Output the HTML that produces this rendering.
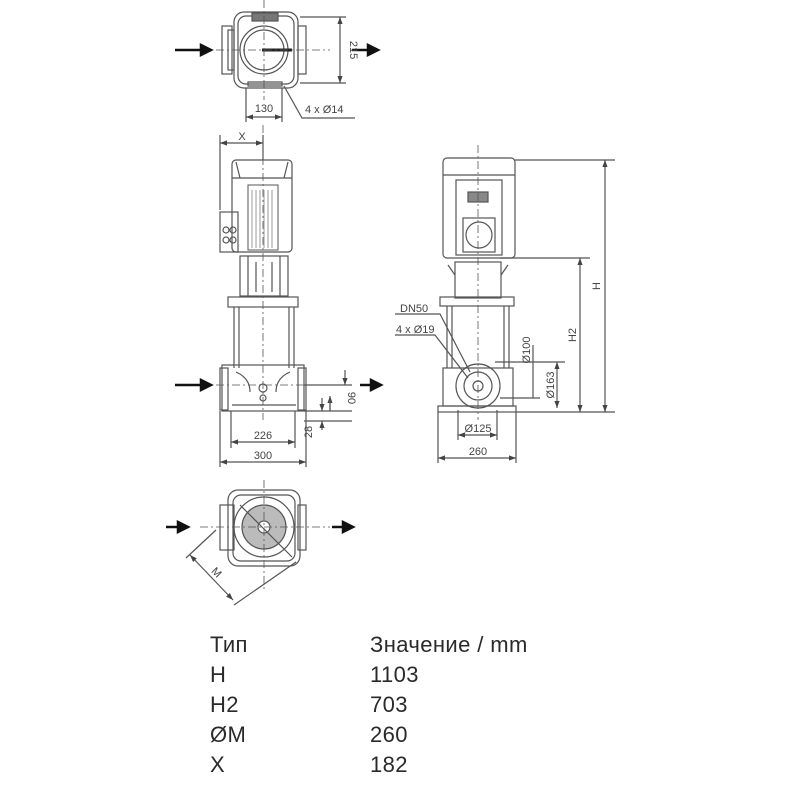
<!DOCTYPE html>
<html><head><meta charset="utf-8"><style>
html,body{margin:0;padding:0;background:#fff;}
svg{display:block;}
.t{font-family:"Liberation Sans","DejaVu Sans",sans-serif;fill:#444;}
.tb{font-family:"Liberation Sans","DejaVu Sans",sans-serif;fill:#2a2a2a;font-size:22px;letter-spacing:0.4px;}
</style></head><body>
<svg width="800" height="800" viewBox="0 0 800 800" xmlns="http://www.w3.org/2000/svg">
<defs>
<marker id="ar" markerWidth="6" markerHeight="6" refX="6" refY="3" orient="auto-start-reverse"><path d="M0,0.8 L6,3 L0,5.2Z" fill="#444"/></marker>
</defs>
<g stroke="#555" fill="none" stroke-width="1.2">
<!-- TOP VIEW -->
<rect x="234" y="12" width="64" height="76" rx="10"/>
<rect x="238" y="16" width="56" height="68" rx="8"/>
<circle cx="264" cy="50" r="24"/>
<circle cx="264" cy="50" r="20"/>
<rect x="222" y="26" width="10" height="48"/><rect x="228" y="30" width="6" height="40"/>
<rect x="298" y="26" width="8" height="48"/>
<rect x="252" y="13" width="26" height="8" fill="#777"/>
<path d="M262,50 H292" stroke="#222" stroke-width="3"/>
<path d="M248,86 h34 v-4 h-34z"/>
<path d="M264,0 V100 M200,50 H330" stroke-dasharray="8,3,2,3" stroke-width="0.8"/>
<path d="M300,17 H346 M300,83 H346"/>
<path d="M340,17 V83" marker-start="url(#ar)" marker-end="url(#ar)"/>
<path d="M246,88 V122 M282,88 V122"/>
<path d="M246,117 H282" marker-start="url(#ar)" marker-end="url(#ar)"/>
<path d="M284,86 L302,118 H355"/>
<!-- FRONT VIEW -->
<rect x="232" y="160" width="60" height="92" rx="4"/>
<path d="M232,178 H292 M236,162 L240,178 M288,162 L284,178"/>
<rect x="248" y="185" width="30" height="65" stroke-width="1"/>
<path d="M252,190 V248 M256,190 V248 M260,190 V248 M264,190 V248 M268,190 V248 M272,190 V248" stroke-width="0.6"/>
<rect x="220" y="212" width="18" height="40"/>
<circle cx="226" cy="230" r="3"/><circle cx="233" cy="230" r="3"/><circle cx="226" cy="240" r="3"/><circle cx="233" cy="240" r="3"/>
<rect x="240" y="256" width="48" height="40"/>
<path d="M248,256 V296 M280,256 V296 M256,262 V292 M272,262 V292"/>
<rect x="228" y="297" width="70" height="10"/>
<path d="M234,307 V368 M239,307 V368 M289,307 V368 M294,307 V368"/>
<rect x="222" y="365" width="82" height="46"/>
<rect x="220" y="368" width="8" height="42"/><rect x="298" y="368" width="8" height="42"/>
<path d="M236,372 Q250,378 250,392 M290,372 Q276,378 276,392 M232,405 H296"/>
<circle cx="263" cy="388" r="4"/><circle cx="263" cy="398" r="3"/>
<path d="M263,125 V420 M200,385 H330" stroke-dasharray="8,3,2,3" stroke-width="0.8"/>
<path d="M220,135 V210 M263,135 V160"/>
<path d="M220,143 H263" marker-start="url(#ar)" marker-end="url(#ar)"/>
<path d="M304,385 H352 M304,411 H352 M304,421 H352"/>
<path d="M345,370 V385" marker-end="url(#ar)"/><path d="M330,411 V396" marker-end="url(#ar)"/>
<path d="M330,400 V411"/>
<path d="M322,430 V421" marker-end="url(#ar)"/><path d="M322,398 V411" marker-end="url(#ar)"/>
<path d="M231,411 V448 M295,411 V448 M220,411 V467 M306,411 V467"/>
<path d="M231,442 H295" marker-start="url(#ar)" marker-end="url(#ar)"/>
<path d="M220,462 H306" marker-start="url(#ar)" marker-end="url(#ar)"/>
<!-- SIDE VIEW -->
<rect x="443" y="158" width="72" height="100" rx="4"/>
<path d="M443,175 H515"/>
<rect x="456" y="180" width="46" height="75"/>
<rect x="463" y="218" width="32" height="34"/>
<circle cx="479" cy="235" r="13"/>
<rect x="468" y="192" width="20" height="10" fill="#888"/>
<rect x="455" y="262" width="46" height="36"/>
<path d="M448,265 L455,275 M508,265 L501,275"/>
<rect x="440" y="297" width="74" height="9"/>
<path d="M447,306 V368 M452,306 V368 M504,306 V368 M509,306 V368"/>
<rect x="443" y="368" width="70" height="38"/>
<circle cx="478" cy="386" r="22"/><circle cx="478" cy="386" r="14"/><circle cx="478" cy="386" r="5"/>
<rect x="438" y="406" width="78" height="6"/>
<path d="M478,145 V420" stroke-dasharray="8,3,2,3" stroke-width="0.8"/>
<path d="M515,160 H615 M500,258 H590 M516,412 H615"/>
<path d="M605,160 V412" marker-start="url(#ar)" marker-end="url(#ar)"/>
<path d="M580,258 V412" marker-start="url(#ar)" marker-end="url(#ar)"/>
<path d="M495,362 H565 M500,398 H540"/>
<path d="M557,362 V408" marker-start="url(#ar)" marker-end="url(#ar)"/>
<path d="M533,345 V398"/>
<path d="M458,410 V440 M497,410 V440 M438,412 V463 M516,412 V463"/>
<path d="M458,435 H497" marker-start="url(#ar)" marker-end="url(#ar)"/>
<path d="M438,458 H516" marker-start="url(#ar)" marker-end="url(#ar)"/>
<path d="M395,314 H440 L470,372 M395,335 H435 L468,378"/>
<!-- BOTTOM VIEW -->
<rect x="228" y="490" width="72" height="76" rx="10"/>
<rect x="233" y="495" width="62" height="66" rx="8"/>
<circle cx="264" cy="527" r="30"/>
<circle cx="264" cy="527" r="22" fill="#bbb"/>
<circle cx="264" cy="527" r="6" fill="#fff"/>
<rect x="220" y="505" width="14" height="45"/>
<rect x="298" y="505" width="8" height="45"/>
<path d="M264,480 V590 M200,527 H330" stroke-dasharray="8,3,2,3" stroke-width="0.8"/>
<path d="M240,505 L292,557 M216,530 L186,558 M296,562 L234,605"/>
<path d="M190,555 L233,600" marker-start="url(#ar)" marker-end="url(#ar)"/>
</g>
<!-- arrows -->
<g fill="#111" stroke="#111" stroke-width="2.5">
<path d="M175,50 H203"/><path d="M201,45 L211,50 L201,55Z"/>
<path d="M352,50 H370"/><path d="M368,45 L378,50 L368,55Z"/>
<path d="M175,385 H203"/><path d="M201,380 L211,385 L201,390Z"/>
<path d="M360,385 H373"/><path d="M371,380 L381,385 L371,390Z"/>
<path d="M166,527 H180"/><path d="M178,522 L188,527 L178,532Z"/>
<path d="M332,527 H345"/><path d="M343,522 L353,527 L343,532Z"/>
</g>
<!-- labels -->
<g class="t" font-size="11">
<text x="0" y="0" transform="translate(350,50) rotate(90)" text-anchor="middle">215</text>
<text x="264" y="112" text-anchor="middle">130</text>
<text x="305" y="113">4 x Ø14</text>
<text x="242" y="140" text-anchor="middle">X</text>
<text x="0" y="0" transform="translate(348,398) rotate(90)" text-anchor="middle">90</text>
<text x="0" y="0" transform="translate(312,432) rotate(-90)" text-anchor="middle">28</text>
<text x="263" y="439" text-anchor="middle">226</text>
<text x="263" y="459" text-anchor="middle">300</text>
<text x="400" y="312">DN50</text>
<text x="396" y="333">4 x Ø19</text>
<text x="0" y="0" transform="translate(530,350) rotate(-90)" text-anchor="middle">Ø100</text>
<text x="0" y="0" transform="translate(554,385) rotate(-90)" text-anchor="middle">Ø163</text>
<text x="0" y="0" transform="translate(576,335) rotate(-90)" text-anchor="middle">H2</text>
<text x="0" y="0" transform="translate(600,286) rotate(-90)" text-anchor="middle">H</text>
<text x="478" y="432" text-anchor="middle">Ø125</text>
<text x="478" y="455" text-anchor="middle">260</text>
<text x="0" y="0" transform="translate(214,575) rotate(45)" text-anchor="middle">M</text>
</g>
<g class="tb">
<text x="210" y="652">Тип</text><text x="370" y="652">Значение / mm</text>
<text x="210" y="682">H</text><text x="370" y="682">1103</text>
<text x="210" y="712">H2</text><text x="370" y="712">703</text>
<text x="210" y="742">ØM</text><text x="370" y="742">260</text>
<text x="210" y="772">X</text><text x="370" y="772">182</text>
</g>
</svg>
</body></html>
